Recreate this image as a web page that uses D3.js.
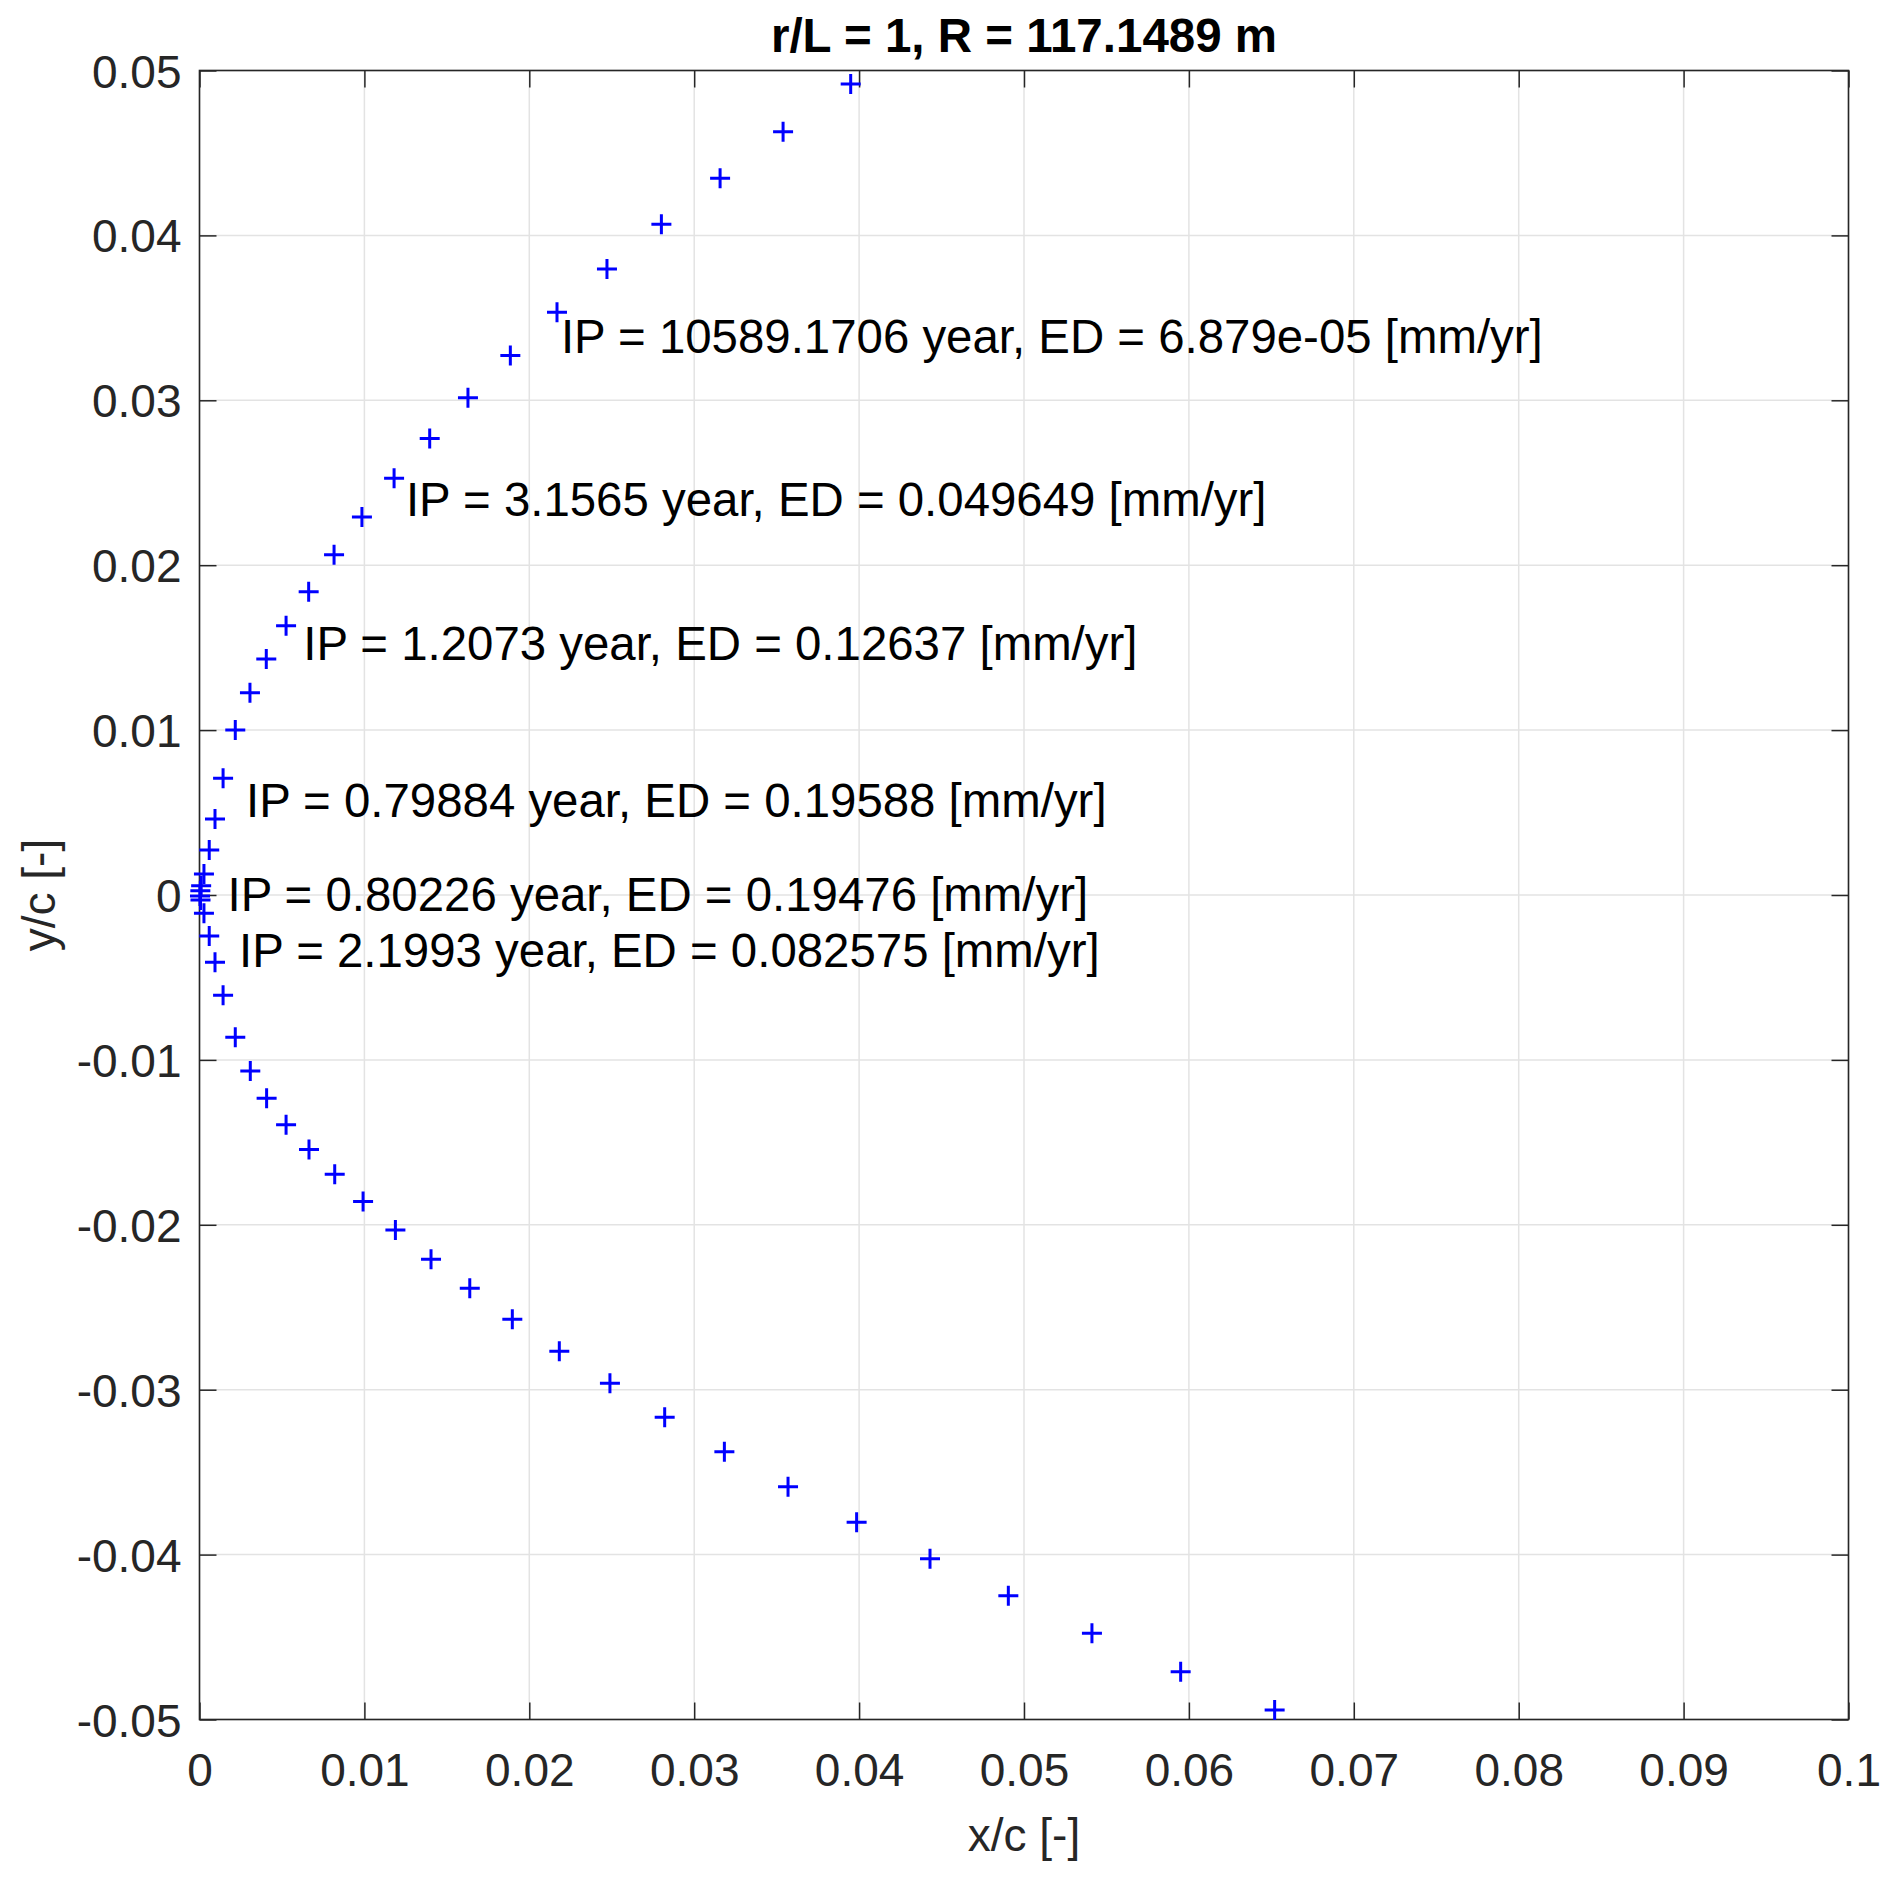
<!DOCTYPE html>
<html>
<head>
<meta charset="utf-8">
<script src="https://cdn.jsdelivr.net/npm/d3@7"></script>
<style>
  html, body { margin: 0; padding: 0; background: #ffffff; }
  svg { display: block; }
  text { font-family: "Liberation Sans", Arial, Helvetica, sans-serif; }
</style>
</head>
<body>
<svg id="chart" width="1892" height="1878"></svg>
<script>
// ---- data ----
const titleText = "r/L = 1, R = 117.1489 m";
const xLabelText = "x/c [-]";
const yLabelText = "y/c [-]";

const xTicks = [0, 0.01, 0.02, 0.03, 0.04, 0.05, 0.06, 0.07, 0.08, 0.09, 0.1];
const xTickLabels = ["0", "0.01", "0.02", "0.03", "0.04", "0.05", "0.06", "0.07", "0.08", "0.09", "0.1"];
const yTicks = [-0.05, -0.04, -0.03, -0.02, -0.01, 0, 0.01, 0.02, 0.03, 0.04, 0.05];
const yTickLabels = ["-0.05", "-0.04", "-0.03", "-0.02", "-0.01", "0", "0.01", "0.02", "0.03", "0.04", "0.05"];

const xPoints = [
  0.03949, 0.03539, 0.03157, 0.02801, 0.02471, 0.02168, 0.01885, 0.01628, 0.01396, 0.01180,
  0.00985, 0.00816, 0.00662, 0.00525, 0.00405, 0.00306, 0.00217, 0.00143, 0.00094, 0.00059,
  0.00027, 0.00010, 0.00005, 0.00003, 0.00006,
  0.00027, 0.00059, 0.00094, 0.00143, 0.00217, 0.00308, 0.00407, 0.00525, 0.00664, 0.00820,
  0.00992, 0.01188, 0.01404, 0.01639, 0.01897, 0.02182, 0.02489, 0.02821, 0.03183, 0.03569,
  0.03985, 0.04430, 0.04905, 0.05412, 0.05950, 0.06520
];
const yPoints = [
  0.04918, 0.04629, 0.04346, 0.04067, 0.03796, 0.03534, 0.03271, 0.03016, 0.02769, 0.02527,
  0.02292, 0.02064, 0.01839, 0.01633, 0.01431, 0.01227, 0.01001, 0.00708, 0.00461, 0.00273,
  0.00127, 0.00056, 0.00026, -0.00006, -0.00030,
  -0.00111, -0.00249, -0.00408, -0.00608, -0.00863, -0.01067, -0.01233, -0.01393, -0.01544, -0.01694,
  -0.01858, -0.02032, -0.02209, -0.02385, -0.02573, -0.02767, -0.02961, -0.03167, -0.03376, -0.03588,
  -0.03804, -0.04025, -0.04249, -0.04477, -0.04710, -0.04942
];

const annoTexts = [
  "IP = 10589.1706 year, ED = 6.879e-05 [mm/yr]",
  "IP = 3.1565 year, ED = 0.049649 [mm/yr]",
  "IP = 1.2073 year, ED = 0.12637 [mm/yr]",
  "IP = 0.79884 year, ED = 0.19588 [mm/yr]",
  "IP = 0.80226 year, ED = 0.19476 [mm/yr]",
  "IP = 2.1993 year, ED = 0.082575 [mm/yr]"
];
const annoX = [0.02192, 0.01252, 0.00629, 0.00282, 0.00170, 0.00240];
const annoY = [0.03289, 0.02298, 0.01425, 0.00475, -0.00095, -0.00435];

// ---- layout ----
const mLeft = 199.5, mRight = 1848.5, mTop = 70.5, mBottom = 1719.5;
const axisColor = "#262626";
const gridColor = "#e3e3e3";
const fontSize = 46;
const annoFontSize = 47.4;
const fontFam = '"Liberation Sans", Arial, Helvetica, sans-serif';

const svg = d3.select("#chart");
svg.append("rect").attr("x", 0).attr("y", 0).attr("width", 1892).attr("height", 1878).attr("fill", "#ffffff");

const x = d3.scaleLinear().domain([0, 0.1]).range([mLeft, mRight]);
const y = d3.scaleLinear().domain([-0.05, 0.05]).range([mBottom, mTop]);

// grid
const grid = svg.append("g");
grid.selectAll("line.gx").data(xTicks).join("line").attr("class", "gx")
  .attr("x1", d => x(d)).attr("x2", d => x(d))
  .attr("y1", mTop).attr("y2", mBottom)
  .attr("stroke", gridColor).attr("stroke-width", 1.5);
grid.selectAll("line.gy").data(yTicks).join("line").attr("class", "gy")
  .attr("y1", d => y(d)).attr("y2", d => y(d))
  .attr("x1", mLeft).attr("x2", mRight)
  .attr("stroke", gridColor).attr("stroke-width", 1.5);

// axes (ticks inside, mirrored on all sides)
const tickLen = 17;
const xAxisB = d3.axisBottom(x).tickValues(xTicks).tickSizeInner(-tickLen).tickSizeOuter(0)
  .tickFormat((d, i) => xTickLabels[i]).tickPadding(34);
const gxb = svg.append("g").attr("transform", `translate(0,${mBottom})`).call(xAxisB);
gxb.select(".domain").remove();
gxb.selectAll(".tick line").attr("stroke", axisColor).attr("stroke-width", 1.5);
gxb.selectAll(".tick text").attr("font-size", fontSize).attr("fill", axisColor)
  .attr("font-family", fontFam);

const xAxisT = d3.axisTop(x).tickValues(xTicks).tickSizeInner(-tickLen).tickSizeOuter(0).tickFormat("");
const gxt = svg.append("g").attr("transform", `translate(0,${mTop})`).call(xAxisT);
gxt.select(".domain").remove();
gxt.selectAll(".tick line").attr("stroke", axisColor).attr("stroke-width", 1.5);

const yAxisL = d3.axisLeft(y).tickValues(yTicks).tickSizeInner(-tickLen).tickSizeOuter(0)
  .tickFormat((d, i) => yTickLabels[i]).tickPadding(18);
const gyl = svg.append("g").attr("transform", `translate(${mLeft},0)`).call(yAxisL);
gyl.select(".domain").remove();
gyl.selectAll(".tick line").attr("stroke", axisColor).attr("stroke-width", 1.5);
gyl.selectAll(".tick text").attr("font-size", fontSize).attr("fill", axisColor)
  .attr("font-family", fontFam).attr("dy", "0.36em");

const yAxisR = d3.axisRight(y).tickValues(yTicks).tickSizeInner(-tickLen).tickSizeOuter(0).tickFormat("");
const gyr = svg.append("g").attr("transform", `translate(${mRight},0)`).call(yAxisR);
gyr.select(".domain").remove();
gyr.selectAll(".tick line").attr("stroke", axisColor).attr("stroke-width", 1.5);

// box
svg.append("rect").attr("x", mLeft).attr("y", mTop)
  .attr("width", mRight - mLeft).attr("height", mBottom - mTop)
  .attr("fill", "none").attr("stroke", axisColor).attr("stroke-width", 1.6);

// markers
const pts = xPoints.map((v, i) => [v, yPoints[i]]);
const arm = 10;
svg.append("g").selectAll("path").data(pts).join("path")
  .attr("d", d => {
    const cx = x(d[0]), cy = y(d[1]);
    return `M${cx - arm},${cy}H${cx + arm}M${cx},${cy - arm}V${cy + arm}`;
  })
  .attr("stroke", "#0000ff").attr("stroke-width", 3).attr("fill", "none");

// annotations
svg.append("g").selectAll("text").data(annoTexts).join("text")
  .attr("x", (d, i) => x(annoX[i]))
  .attr("y", (d, i) => y(annoY[i]))
  .attr("font-size", annoFontSize)
  .attr("font-family", fontFam)
  .attr("fill", "#000000")
  .text(d => d);

// title
svg.append("text").attr("x", (mLeft + mRight) / 2).attr("y", 52)
  .attr("text-anchor", "middle").attr("font-size", 47.5).attr("font-weight", "bold")
  .attr("font-family", fontFam)
  .attr("fill", "#000000").text(titleText);

// axis labels
svg.append("text").attr("x", (mLeft + mRight) / 2).attr("y", 1851)
  .attr("text-anchor", "middle").attr("font-size", fontSize).attr("fill", axisColor)
  .attr("font-family", fontFam)
  .text(xLabelText);
svg.append("text").attr("transform", `translate(55,${(mTop + mBottom) / 2}) rotate(-90)`)
  .attr("text-anchor", "middle").attr("font-size", fontSize).attr("fill", axisColor)
  .attr("font-family", fontFam)
  .text(yLabelText);
</script>
</body>
</html>
